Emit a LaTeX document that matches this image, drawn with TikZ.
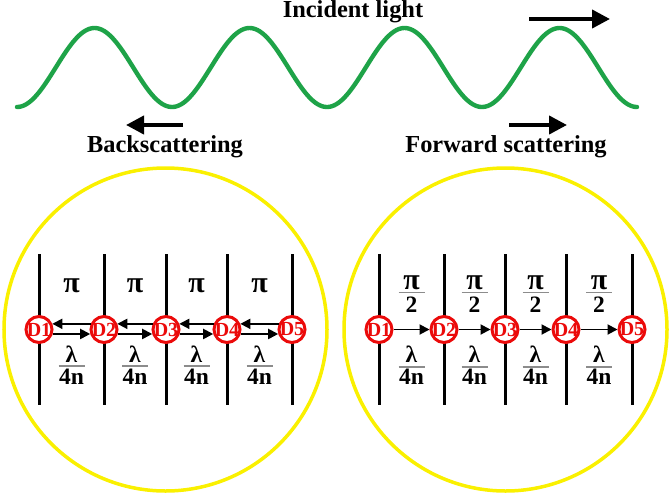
\documentclass[tikz,border=0pt]{standalone}
\usepackage{fontspec}
\setmainfont{Liberation Serif}
\usetikzlibrary{arrows.meta}
\definecolor{wavegreen}{RGB}{30,163,72}
\definecolor{ringyellow}{RGB}{250,240,0}
\definecolor{dred}{RGB}{235,10,10}
\definecolor{bargray}{RGB}{140,140,140}
\begin{document}
\begin{tikzpicture}[x=1pt,y=-1pt,
  title/.style={font=\bfseries\fontsize{24.4}{28}\selectfont, inner sep=0pt, anchor=base},
  det/.style={circle, draw=dred, fill=white, line width=3pt, minimum size=26pt, inner sep=0pt, text=dred, font=\bfseries\fontsize{20}{20}\selectfont},
  bigarrow/.style={line width=4pt, -{Triangle[length=18pt,width=18pt]}},
  link/.style={line width=1.9pt, -{Triangle[length=10pt,width=10pt]}},
  wall/.style={line width=3pt},
  ring/.style={circle, draw=ringyellow, line width=3.5pt, minimum size=323pt, inner sep=0pt},
  lab/.style={font=\bfseries\fontsize{23.5}{23.5}\selectfont, inner sep=0pt, anchor=base},
  pilab/.style={font=\bfseries\fontsize{30}{30}\selectfont, inner sep=0pt, anchor=base},
  bar/.style={draw=bargray, line width=1.2pt}
]
\useasboundingbox (0,0) rectangle (671,495);
% wave
\draw[wavegreen, line width=4.4pt, line cap=round] plot[domain=17:637, samples=300, smooth] (\x, {67.5+39.5*cos(2.32258*(\x-17))});
% titles
\node[title] (inc) at (353,18) {Incident light};
\node[title] (back) at (165,152) {Backscattering};
\node[title] (fwd) at (506,152) {Forward scattering};
% big arrows
\coordinate (ia1) at (529,19); \coordinate (ia2) at (610,19);
\coordinate (ba1) at (183,125); \coordinate (ba2) at (126,125);
\coordinate (fa1) at (509,125); \coordinate (fa2) at (567,125);
\draw[bigarrow] (ia1) -- (ia2);
\draw[bigarrow] (ba1) -- (ba2);
\draw[bigarrow] (fa1) -- (fa2);
% rings
\node[ring] (lring) at (165.5,329.5) {};
\node[ring] (rring) at (505.5,329.5) {};
% walls
\foreach \x in {39,104,166,227,292,379,444,505,566,632}
  \draw[wall] (\x,254) -- (\x,405);
% detectors
\foreach \x [count=\i] in {39,104,166,227,292}
  \node[det] (L\i) at (\x,329.5) {\makebox[0pt]{D\i}};
\foreach \x [count=\i] in {379,444,505,566,632}
  \node[det] (R\i) at (\x,329.5) {\makebox[0pt]{D\i}};
% connectors
\foreach \i/\j in {1/2,2/3,3/4,4/5} {
  \draw[link] (L\j.157) -- (L\i.23);
  \draw[link] (L\i.-18) -- (L\j.198);
  \draw[link] (R\i) -- (R\j);
}
% left labels
\foreach \m [count=\k] in {71.5,135,196.5,259.5} {
  \node[pilab] (lp\k) at (\m,292) {π};
  \node[lab] (ll\k) at (\m,362) {λ};
  \draw[bar] (\m-13,366) -- (\m+13,366);
  \node[lab] (ln\k) at (\m,384) {4n};
}
% right labels
\foreach \m [count=\k] in {411.5,474.5,535.5,599} {
  \node[pilab] (rp\k) at (\m,289) {π};
  \draw[bar] (\m-13,292.5) -- (\m+13,292.5);
  \node[lab] (r2\k) at (\m,312) {2};
  \node[lab] (rl\k) at (\m,362) {λ};
  \draw[bar] (\m-13,367) -- (\m+13,367);
  \node[lab] (rn\k) at (\m,384) {4n};
}
\end{tikzpicture}
\end{document}
